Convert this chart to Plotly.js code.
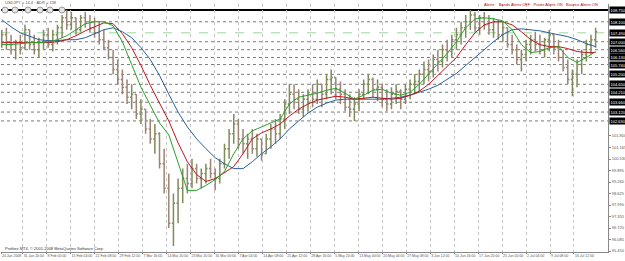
<!DOCTYPE html>
<html><head><meta charset="utf-8">
<script src="https://cdn.plot.ly/plotly-3.0.1.min.js"></script>
<style>html,body{margin:0;padding:0;background:#fff;overflow:hidden}#chart{width:625px;height:261px}</style>
</head><body><div id="chart"></div>
<script>
// Daily OHLC (USDJPY, price units)
const opens = [107.11,107.39,106.84,106.56,107.00,106.67,107.66,106.84,106.56,107.00,
107.39,106.84,107.39,107.77,108.32,107.93,108.32,107.66,108.32,108.10,
107.77,107.49,107.11,106.67,106.13,105.47,104.92,104.49,103.94,104.10,
103.01,103.28,102.19,101.64,101.92,100.27,98.91,96.99,98.09,98.91,
99.45,99.18,100.00,99.45,99.73,100.00,99.73,99.45,100.27,101.10,
101.92,102.46,101.64,101.37,101.64,101.10,101.64,100.82,101.64,102.19,
101.92,102.74,103.56,104.10,103.83,103.28,103.83,104.10,103.83,104.65,
104.10,104.92,105.03,104.38,104.10,103.39,103.28,103.56,104.10,104.65,
104.92,104.38,104.49,103.83,103.56,104.10,104.27,103.83,104.38,104.65,
104.81,105.20,105.47,105.36,106.02,105.91,106.56,106.46,107.11,107.39,
107.77,108.10,108.48,107.77,108.32,107.93,107.66,108.10,107.39,107.77,
106.84,106.56,106.02,106.29,106.84,107.11,106.84,106.56,107.11,107.39,
106.67,106.13,105.58,104.92,105.20,105.74,106.29,106.84,107.11];
const highs = [107.66,107.77,107.39,107.11,107.39,107.93,107.66,107.39,107.22,107.66,
107.77,107.66,107.93,108.48,108.75,108.64,108.32,108.48,108.64,108.48,
108.32,108.10,107.66,107.11,106.56,106.02,105.47,104.92,104.65,104.10,
103.83,103.28,102.74,102.46,102.00,101.10,99.73,98.63,99.45,100.00,
100.27,100.55,100.27,100.00,100.27,100.55,100.00,100.55,101.37,102.19,
103.01,102.74,102.19,101.92,102.19,101.92,101.64,101.92,102.46,102.74,
103.01,103.83,104.65,104.65,104.38,104.10,104.38,104.65,104.92,104.65,
105.20,105.47,105.03,104.81,104.38,104.10,103.94,104.38,104.92,105.20,
105.03,104.92,104.65,104.38,104.49,104.65,104.38,104.65,104.92,105.20,
105.47,105.91,106.02,106.29,106.56,106.84,107.11,107.39,107.77,108.10,
108.48,108.75,108.64,108.48,108.64,108.48,108.32,108.21,108.10,107.77,
107.39,106.84,106.56,107.11,107.39,107.55,107.39,107.22,107.66,107.39,
107.11,106.56,106.02,105.47,106.02,106.56,107.11,107.39,107.77];
const lows = [106.67,106.56,106.29,106.02,106.29,106.56,106.56,106.29,106.13,106.56,
106.67,106.46,106.84,107.22,107.66,107.66,107.39,107.55,107.77,107.49,
107.22,106.84,106.56,106.02,105.20,104.65,104.10,103.56,103.28,102.74,
102.46,101.92,101.37,100.82,100.00,98.63,96.72,95.73,96.99,98.09,
98.63,98.91,99.18,98.91,99.18,99.45,98.80,99.18,100.00,100.55,
101.37,101.10,100.82,100.55,100.82,100.66,100.44,100.82,101.10,101.37,
101.64,102.19,103.01,103.28,103.01,102.85,103.17,103.39,103.56,103.39,
103.83,104.10,103.83,103.56,103.17,102.85,102.63,103.17,103.83,104.10,
103.94,103.72,103.39,103.17,103.28,103.56,103.28,103.56,103.83,104.10,
104.27,104.65,104.81,105.03,105.36,105.58,105.91,106.13,106.56,106.84,
107.22,107.66,107.55,107.39,107.66,107.39,107.22,107.11,107.00,106.67,
106.29,105.74,105.36,105.91,106.29,106.46,106.29,106.13,106.46,106.29,
105.91,105.36,104.65,103.99,104.49,105.20,105.91,106.29,106.67];
const closes = [107.39,106.84,106.56,107.00,106.67,107.66,106.84,106.56,107.00,107.39,
106.84,107.39,107.77,108.32,107.93,108.32,107.66,108.32,108.10,107.77,
107.49,107.11,106.67,106.13,105.47,104.92,104.49,103.94,104.10,103.01,
103.28,102.19,101.64,101.92,100.27,98.91,96.99,98.09,98.91,99.45,
99.18,100.00,99.45,99.73,100.00,99.73,99.45,100.27,101.10,101.92,
102.46,101.64,101.37,101.64,101.10,101.64,100.82,101.64,102.19,101.92,
102.74,103.56,104.10,103.83,103.28,103.83,104.10,103.83,104.65,104.10,
104.92,105.03,104.38,104.10,103.39,103.28,103.56,104.10,104.65,104.92,
104.38,104.49,103.83,103.56,104.10,104.27,103.83,104.38,104.65,104.81,
105.20,105.47,105.36,106.02,105.91,106.56,106.46,107.11,107.39,107.77,
108.10,108.48,107.77,108.32,107.93,107.66,108.10,107.39,107.77,106.84,
106.56,106.02,106.29,106.84,107.11,106.84,106.56,107.11,107.39,106.67,
106.13,105.58,104.92,105.20,105.74,106.29,106.84,107.11,107.55];

// Moving averages sampled every 2nd day
const maDays = [0,2,4,6,8,10,12,14,16,18,20,22,24,26,28,30,32,34,36,38,40,42,44,46,48,50,52,54,56,58,60,62,64,66,68,70,72,74,76,78,80,82,84,86,88,90,92,94,96,98,100,102,104,106,108,110,112,114,116,118,120,122,124,126,128];
const maFast = [106.84,106.84,106.89,106.95,106.95,107.00,107.11,107.33,107.66,107.99,108.10,108.10,107.88,107.00,105.74,104.49,103.50,102.52,101.86,100.27,98.80,98.80,99.07,99.40,99.84,100.82,101.64,102.08,102.30,102.52,102.74,103.56,103.94,104.05,104.16,104.32,104.43,104.16,103.83,104.05,104.32,104.38,104.16,104.05,104.21,104.65,105.20,105.80,106.35,107.00,107.77,108.26,108.32,108.26,108.15,107.66,106.84,106.40,106.46,106.67,106.73,106.13,105.85,106.13,106.46];
const maMid = [106.95,106.95,106.95,106.95,106.95,106.95,107.00,107.11,107.33,107.60,107.82,108.04,107.99,107.44,106.67,105.69,104.60,103.61,102.63,101.42,100.38,99.67,99.29,99.45,99.78,100.11,100.82,101.64,101.97,102.19,102.46,102.90,103.28,103.56,103.78,103.88,103.99,103.94,103.83,103.88,103.94,103.88,103.83,103.88,104.05,104.27,104.65,105.14,105.64,106.13,106.84,107.49,107.93,108.10,108.10,107.93,107.55,107.11,106.84,106.73,106.73,106.62,106.46,106.40,106.40];
const maSlow = [108.21,107.82,107.49,107.28,107.11,107.06,107.06,107.11,107.11,107.22,107.44,107.66,107.77,107.55,107.22,106.67,106.02,105.14,104.10,103.12,102.30,101.64,101.10,100.60,100.27,100.00,100.00,100.38,100.82,101.20,101.64,102.19,102.63,103.06,103.39,103.61,103.78,103.83,103.83,103.83,103.83,103.83,103.88,103.94,104.05,104.21,104.38,104.60,104.92,105.25,105.69,106.13,106.56,107.00,107.39,107.66,107.71,107.66,107.60,107.49,107.39,107.28,107.11,106.89,106.73];

// Right-axis price ticks and horizontal level lines
const axisTicks = [95.450,96.085,96.720,97.355,97.990,98.625,99.260,99.895,100.530,101.165,101.800];
const levelPrices = [108.75,108.10,107.49,107.00,106.56,106.13,105.74,105.20,104.65,104.21,103.66,103.12,102.63];
const xTickLabels = ["24 Jan 2008","31 Jan 20:00","8 Feb 00:00","15 Feb 04:00","22 Feb 08:00","29 Feb 12:00","7 Mar 16:00","14 Mar 20:00","23 Mar 20:00","31 Mar 00:00","7 Apr 04:00","14 Apr 08:00","21 Apr 12:00","28 Apr 16:00","5 May 20:00","13 May 00:00","20 May 04:00","27 May 08:00","3 Jun 12:00","10 Jun 16:00","17 Jun 20:00","25 Jun 00:00","2 Jul 04:00","9 Jul 08:00","16 Jul 12:00"];

const barsPerDay = 6, barsPerTick = 31;
const xs = opens.map((_, i) => i * barsPerDay);
const maX = maDays.map(d => d * barsPerDay);
const tickPos = xTickLabels.map((_, k) => k === 0 ? -1 : barsPerTick * k - 4);

const traces = [
  {type:'ohlc', x:xs, open:opens, high:highs, low:lows, close:closes,
   increasing:{line:{color:'#808a5a', width:1.5}}, decreasing:{line:{color:'#9c8474', width:1.5}},
   tickwidth:0.35, hoverinfo:'skip', showlegend:false},
  {type:'scatter', mode:'lines', x:maX, y:maSlow, line:{color:'#2a5f9e', width:1}, hoverinfo:'skip', showlegend:false},
  {type:'scatter', mode:'lines', x:maX, y:maMid, line:{color:'#c0141c', width:1}, hoverinfo:'skip', showlegend:false},
  {type:'scatter', mode:'lines', x:maX, y:maFast, line:{color:'#2aa02a', width:1}, hoverinfo:'skip', showlegend:false}
];

const BASE = 252, PH = 248, PW = 607; // plot bottom / size in px (for paper-coordinate decorations)
const shapes = [], annotations = [];
levelPrices.forEach((p, i) => {
  let line = {color:'#7a7a7a', width:1, dash:'dot'};
  if (i === 0) line = {color:'#000', width:2, dash:'solid'};
  else if (i === 2) line = {color:'#9ad89a', width:1, dash:'dash'};
  shapes.push({type:'line', xref:'paper', x0:0, x1:1, yref:'y', y0:p, y1:p, line:line, layer:'below'});
  annotations.push({xref:'paper', x:1, xanchor:'left', xshift:1, yref:'y', y:p, yanchor:'middle',
    text:p.toFixed(3), showarrow:false, bgcolor:'#000', borderpad:0.5,
    font:{family:'Liberation Sans, Arial', size:4, color:'#fff'}});
});
// toolbar circles top-left
[5,15,28,40,50,62].forEach(px => {
  const cx = (px - 1) / PW, cy = (BASE - 10) / PH;
  shapes.push({type:'circle', xref:'paper', yref:'paper', x0:cx-3/PW, x1:cx+3/PW, y0:cy-3/PH, y1:cy+3/PH,
    line:{color:'#999', width:1}, fillcolor:'#e4e4e4'});
});
annotations.push({xref:'paper', yref:'paper', x:0.003, y:(BASE-3)/PH, xanchor:'left', yanchor:'middle',
  text:'USDJPY = 14.4 · ADR = 138', showarrow:false, font:{family:'Liberation Sans, Arial', size:4, color:'#555'}});
annotations.push({xref:'paper', yref:'paper', x:(600-1)/PW, y:(BASE-5)/PH, xanchor:'right', yanchor:'middle',
  text:'Alerts:   Bands Alerts OFF   Pivots Alerts ON   Bounce Alerts ON', showarrow:false,
  font:{family:'Liberation Sans, Arial', size:4, color:'#c00000'}});
annotations.push({xref:'paper', yref:'paper', x:0.003, y:(BASE-248)/PH, xanchor:'left', yanchor:'middle',
  text:'Profitex MT4, © 2001-2008 MetaQuotes Software Corp.', showarrow:false,
  font:{family:'Liberation Sans, Arial', size:4, color:'#333'}});

const layout = {
  width:625, height:261, margin:{l:1, r:17, t:4, b:9},
  paper_bgcolor:'#fff', plot_bgcolor:'#fff', showlegend:false,
  xaxis:{range:[-1,784], tickvals:tickPos, ticktext:xTickLabels, ticklabelposition:'outside right', tickangle:0,
    tickfont:{family:'Liberation Sans, Arial', size:3.5, color:'#555'}, ticks:'outside', ticklen:1, tickcolor:'#888',
    showgrid:true, gridcolor:'#c4c4c4', griddash:'dot', gridwidth:1, showline:true, linecolor:'#888',
    zeroline:false, rangeslider:{visible:false}, fixedrange:true, automargin:false},
  yaxis:{side:'right', range:[95.40,109.08], tickvals:axisTicks, ticktext:axisTicks.map(v=>v.toFixed(3)),
    tickfont:{family:'Liberation Sans, Arial', size:4, color:'#555'}, ticks:'outside', ticklen:2, tickcolor:'#888',
    showgrid:false, showline:true, linecolor:'#888', zeroline:false, fixedrange:true, automargin:false},
  shapes:shapes, annotations:annotations
};
Plotly.newPlot('chart', traces, layout, {staticPlot:true, displayModeBar:false});
</script></body></html>
